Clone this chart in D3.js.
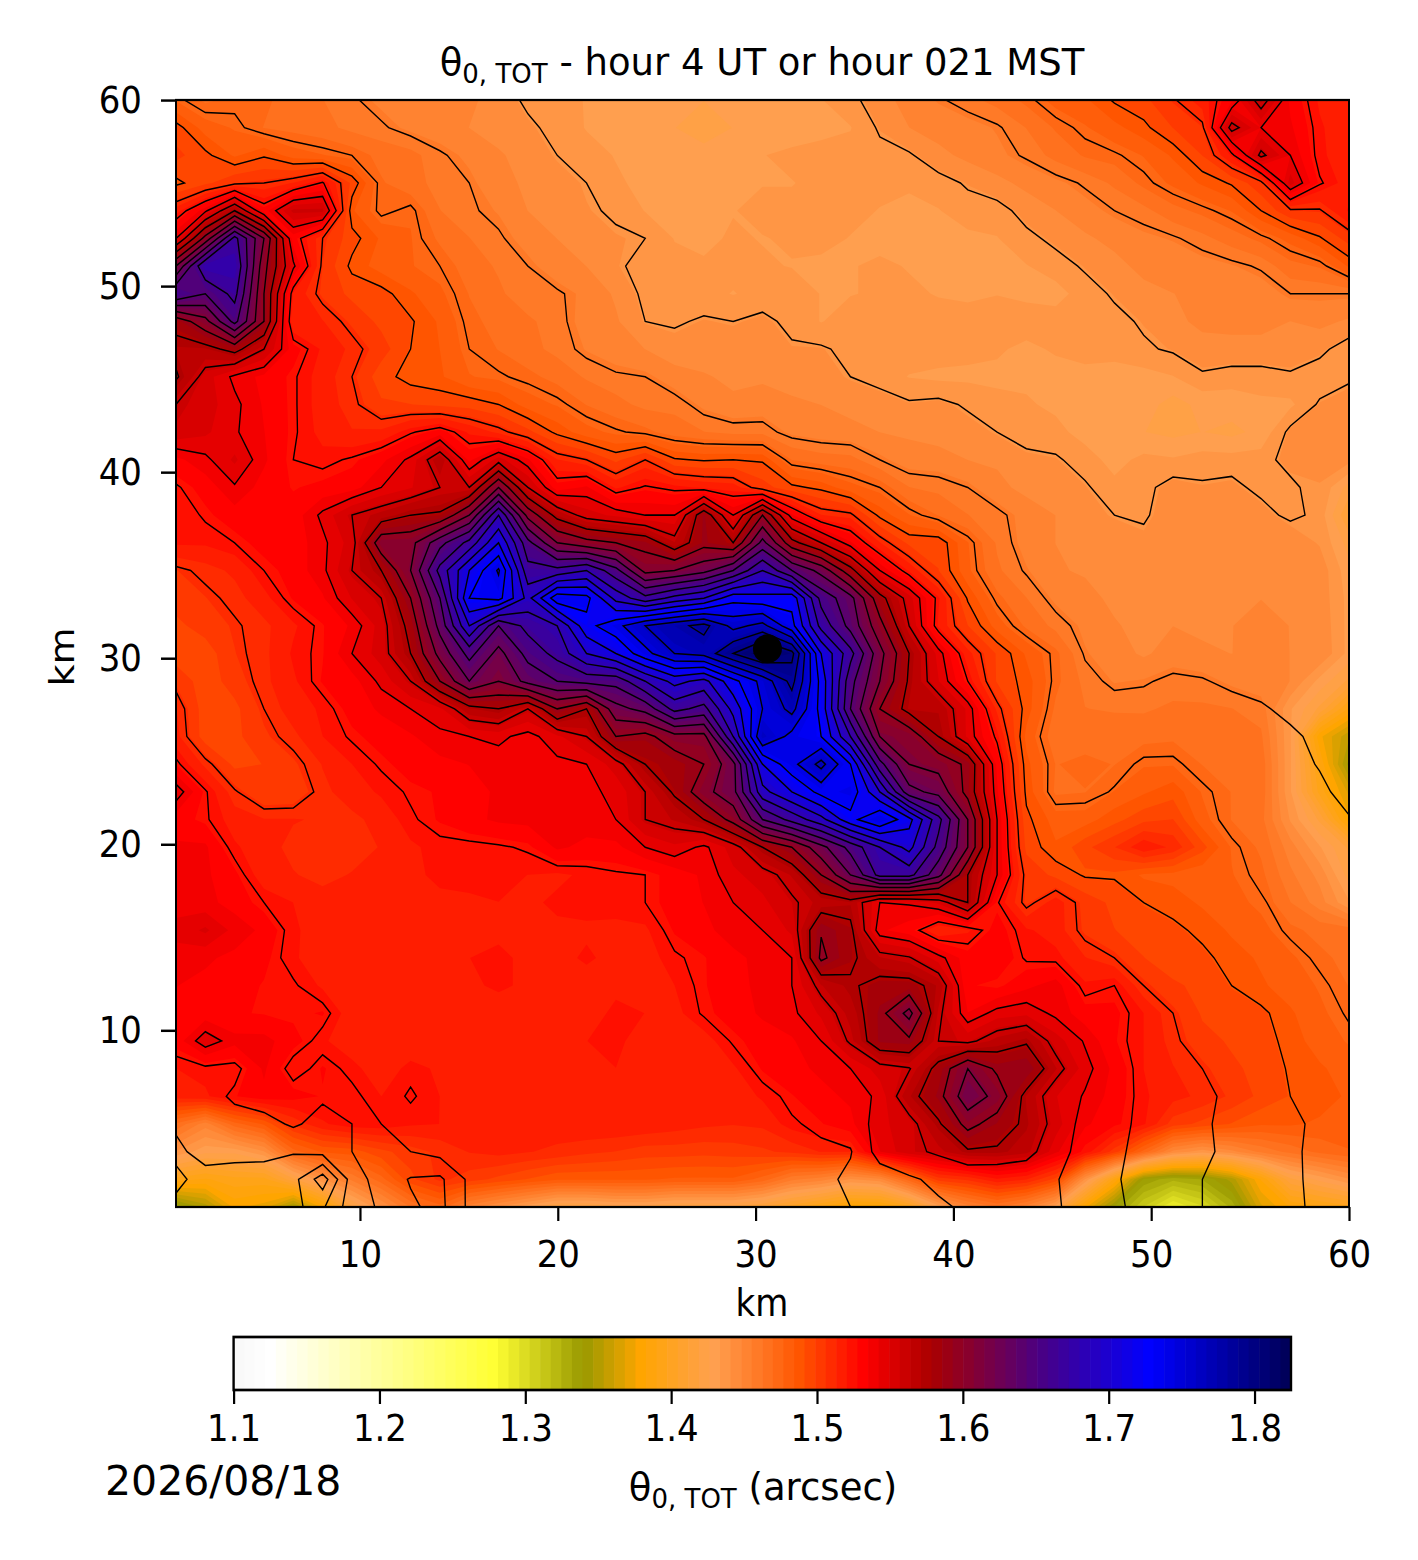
<!DOCTYPE html>
<html>
<head>
<meta charset="utf-8">
<script src="https://d3js.org/d3.v7.min.js"></script>
<style>
  html, body { margin: 0; padding: 0; background: #fff; }
  text { font-family: "DejaVu Sans", sans-serif; fill: #000; }
</style>
</head>
<body>
<div id="chart"></div>
<script>
// map values, top row is y = 60 km, left column x = 0.7 km
// unit: thousandths above 1 on the contour-step scale, see toArcsec
var lineRows = [
[472,465,468,468,462,460,456,452,450,450,448,445,438,436,434,433,432,430,428,430,432,432,434,438,444,450,454,458,462,468,475,478,486,490,499,508,522,552,522,510,506],
[488,476,472,466,464,462,458,456,452,450,447,444,442,437,434,432,430,428,425,428,430,430,432,434,441,447,450,451,454,460,467,472,477,483,492,498,550,530,525,512,506],
[494,487,478,484,476,473,470,464,462,456,452,448,444,440,436,434,432,430,430,432,434,436,437,436,438,439,445,449,452,456,462,467,469,473,480,492,512,548,530,512,508],
[483,490,498,500,505,516,490,467,462,458,455,449,446,443,440,435,433,431,432,433,434,434,436,437,436,435,437,441,445,449,452,456,461,468,474,480,486,497,540,516,508],
[508,528,560,520,545,545,480,468,472,460,456,453,447,445,441,439,434,432,433,434,436,436,436,436,434,433,434,437,437,443,447,451,455,458,464,468,473,485,498,499,512],
[530,580,640,590,520,500,488,478,473,465,460,456,451,447,444,441,440,434,433,435,434,435,436,434,433,432,432,433,434,438,442,446,449,452,454,458,463,468,475,484,495],
[590,650,650,580,532,498,483,476,473,470,463,459,455,450,447,441,438,436,435,436,435,434,433,434,435,434,432,431,433,434,437,441,445,449,449,451,453,456,464,467,480],
[635,620,640,575,510,497,490,488,480,474,466,461,456,456,452,446,438,437,436,434,436,438,434,434,435,435,434,433,434,433,432,437,441,445,447,448,448,450,455,455,455],
[565,585,625,575,505,505,497,490,486,478,468,464,461,457,451,448,440,439,441,440,442,438,434,437,437,436,436,437,438,437,437,436,438,441,445,449,449,449,447,449,446],
[555,555,565,545,520,510,503,495,485,479,470,466,462,458,453,450,447,443,442,444,445,441,441,438,438,437,437,436,435,433,435,437,437,439,441,444,445,445,444,442,436],
[562,540,528,522,516,508,500,488,482,480,473,471,468,464,459,456,455,450,448,445,446,445,443,440,437,434,433,433,433,433,432,432,431,432,434,439,437,437,439,436,439],
[545,540,532,523,516,508,502,493,492,490,489,485,476,472,466,462,458,458,452,449,450,448,447,445,444,441,442,439,436,435,433,431,430,431,425,430,431,433,433,441,443],
[542,538,531,524,516,509,505,506,514,520,510,503,494,483,475,471,468,463,460,458,458,452,450,449,447,446,444,443,440,437,436,432,430,428,426,428,426,430,442,444,444],
[522,528,538,525,515,513,516,522,532,555,522,540,525,505,500,490,500,486,484,485,484,466,463,462,455,450,450,447,446,442,441,437,432,436,435,437,437,437,443,444,443],
[514,520,529,521,517,519,521,530,536,545,545,590,545,520,525,510,516,513,510,508,495,487,483,475,470,460,458,455,449,445,442,441,436,438,443,441,442,438,438,444,443],
[511,516,521,520,520,532,545,552,560,562,590,650,585,555,540,535,530,530,570,530,575,525,505,502,483,473,466,460,457,451,447,443,440,439,444,445,444,443,438,442,443],
[512,512,515,520,520,528,540,585,585,615,640,680,625,590,580,575,570,550,570,560,610,565,545,525,505,490,490,473,459,451,447,444,445,442,444,446,445,445,447,447,444],
[498,502,506,515,520,528,545,560,590,640,680,712,640,640,650,625,585,590,600,620,650,620,600,565,530,510,492,474,461,454,448,446,443,444,446,445,446,444,446,447,444],
[495,498,502,509,518,523,537,545,575,620,695,700,660,705,700,660,640,655,665,690,685,690,630,610,565,540,512,484,468,460,452,450,445,443,446,444,445,447,447,447,446],
[490,495,499,503,510,517,525,540,565,610,665,620,640,650,690,705,725,735,745,720,730,700,645,615,580,545,510,492,476,465,458,452,448,444,447,446,447,448,447,446,446],
[488,488,498,503,512,517,530,540,560,595,625,600,625,640,665,680,705,725,730,755,775,760,680,640,595,560,534,507,491,478,468,454,450,446,450,448,447,449,447,447,445],
[497,488,495,503,510,518,521,532,545,575,605,590,610,620,625,625,650,670,660,690,715,745,690,625,590,558,537,515,491,482,468,458,453,454,457,456,452,449,447,448,443],
[505,488,490,500,508,512,520,525,530,535,555,560,545,575,560,600,610,640,630,670,710,730,690,620,575,555,555,535,503,482,465,460,459,459,461,461,460,457,451,447,443],
[507,488,490,497,503,511,516,520,523,528,530,532,527,535,545,575,570,585,585,650,725,705,695,650,590,585,560,535,513,477,462,463,465,464,465,465,463,461,458,451,445],
[517,503,490,492,497,505,511,516,520,522,524,526,528,528,530,540,560,565,575,600,680,705,730,695,625,590,585,572,522,481,466,468,466,472,472,466,466,464,460,454,448],
[535,516,501,492,493,503,508,512,516,518,521,525,525,526,528,532,545,562,585,600,660,680,700,705,665,610,600,570,525,483,465,466,471,474,476,472,466,464,461,458,450],
[520,516,508,505,505,504,503,507,514,518,522,525,526,528,527,530,545,550,560,580,620,640,660,690,710,685,640,590,530,487,476,476,475,480,480,475,466,462,457,459,456],
[525,525,512,507,503,500,502,505,510,513,513,514,516,525,522,522,530,535,528,540,560,575,600,625,650,670,630,590,530,490,480,478,480,482,482,480,472,465,458,457,462],
[527,525,519,507,505,503,505,507,510,512,513,512,511,510,512,514,515,520,525,535,540,550,575,605,640,640,610,560,530,497,490,484,484,478,477,474,473,468,462,458,462],
[528,526,521,515,511,507,506,505,508,510,510,511,510,512,513,514,515,520,524,530,535,543,552,555,530,531,538,560,516,497,508,496,490,485,482,478,475,471,466,462,463],
[529,529,528,522,512,508,506,505,505,506,509,510,507,510,510,509,510,518,522,527,530,538,574,563,525,520,505,510,520,512,508,497,492,489,487,483,478,475,468,464,463],
[528,525,522,519,512,507,505,505,507,509,511,512,510,509,512,509,508,514,517,522,526,530,578,563,550,546,533,520,522,514,513,505,500,492,488,487,482,478,474,468,464],
[524,522,520,517,516,510,505,505,506,508,510,512,510,507,508,510,511,511,517,521,526,530,549,558,565,565,555,518,516,522,527,512,515,500,493,490,485,480,476,472,466],
[522,520,518,517,516,518,507,505,505,506,507,508,507,507,509,512,511,509,516,520,525,528,538,552,570,595,548,524,533,535,528,520,519,511,500,491,489,487,480,474,469],
[520,535,526,526,520,512,507,506,506,506,508,510,507,508,511,512,509,509,508,516,520,523,530,547,570,572,545,542,552,558,540,529,518,511,502,494,491,489,482,476,472],
[511,513,512,525,511,518,513,507,513,510,509,507,508,508,510,511,510,508,505,510,518,522,525,530,540,544,565,590,572,575,550,533,522,511,505,500,493,490,484,480,476],
[508,510,517,522,520,517,517,511,516,511,510,511,508,509,510,511,509,508,507,507,512,517,522,525,532,555,570,600,585,555,537,529,521,512,507,503,497,490,485,482,478],
[502,507,510,510,517,510,515,515,512,511,510,511,508,509,511,511,510,508,506,505,506,514,517,522,535,540,558,580,568,557,540,525,519,512,507,502,496,491,487,483,480],
[497,505,504,504,501,505,515,520,515,510,510,509,510,508,507,505,503,504,502,502,503,505,513,514,536,542,547,558,558,552,532,528,517,512,506,503,496,492,487,482,478],
[503,495,494,493,490,462,507,522,531,533,512,506,507,505,505,503,502,500,500,501,503,504,511,518,522,528,533,531,530,530,531,522,517,508,505,500,494,491,488,481,477],
[497,490,488,487,486,483,508,517,528,534,512,508,506,505,503,503,502,502,501,502,503,508,510,515,520,524,528,532,534,534,531,526,518,510,506,500,496,491,487,483,477]
];

// the colours drop near the south edge and the east edge, the contour lines do not
var fillBottomRows = [
[465,450,470,480,500,510,515,515,512,511,510,511,508,509,511,511,510,508,506,505,506,514,517,522,535,540,558,580,568,557,540,525,519,512,495,490,485,480,480,478,478],
[440,430,430,440,470,480,482,490,495,500,505,507,505,503,500,498,495,495,494,495,497,500,505,505,530,542,547,558,558,552,532,515,495,470,445,437,445,455,462,468,472],
[400,395,400,400,420,440,455,470,490,500,495,490,485,480,480,480,480,478,478,478,470,455,450,440,445,470,495,500,510,505,490,440,395,350,340,345,360,390,420,430,440],
[345,360,385,380,355,385,420,440,460,470,450,440,430,420,420,425,425,420,420,420,415,405,395,385,385,400,430,450,460,450,430,385,350,325,305,318,340,375,390,395,400]
];
var fillBottomStart = 37;
var fillEastCols = [
[438,440,425],[438,438,415],[445,440,425],[446,445,430],[447,445,432],[447,446,432],[447,447,432],[447,432,420],
[435,420,395],[435,385,365],[435,395,355],[435,400,375],[440,420,385],[450,435,420],[455,445,425],[460,450,435]
];
var fillEastStart = 14;
// darker spots in the colours with no contour round them: row, column, value
var fillSpots = [
[25,32,473],[25,33,478],[25,34,483],[26,32,483],[26,33,490],[26,34,492],
[27,31,490],[27,32,498],[27,33,510],[27,34,503],[27,35,488],[30,0,532],[30,1,538]
];

var xTicks = [10, 20, 30, 40, 50, 60];
var yTicks = [10, 20, 30, 40, 50, 60];
var barTicks = [1.1, 1.2, 1.3, 1.4, 1.5, 1.6, 1.7, 1.8];
var colorStops = [1.10, 1.125, 1.279, 1.34, 1.379, 1.429, 1.488, 1.532, 1.578, 1.652, 1.728, 1.825];
var colorValues = ["#f8f8f8", "#ffffff", "#ffff33", "#999900", "#ffa500", "#ffa050", "#ff5500", "#ff0000", "#aa0000", "#4b0082", "#0000ff", "#000055"];
var siteMark = [30.6, 30.5];

var toArcsec = function(r) { return 1.44 + (r - 440) * 0.017 / 15; };

// the picture is a little taller than wide, tick text included
var sy = 1.12;
var svgWidth = 1418;
var svgHeight = 1560;
var plotLeft = 176, plotRight = 1349, plotTop = 100, plotBottom = 1207;

var svg = d3.select("#chart").append("svg")
  .attr("width", svgWidth)
  .attr("height", svgHeight)
  .style("display", "block");

var g = svg.append("g").attr("transform", "scale(1," + sy + ")");

var xDomain = [0.7, 60];
var yDomain = [0.5, 60];
var xScale = d3.scaleLinear().domain(xDomain).range([plotLeft, plotRight]);
var yScale = d3.scaleLinear().domain(yDomain).range([plotBottom / sy, plotTop / sy]);
var color = d3.scaleLinear().domain(colorStops).range(colorValues).clamp(true);

var nx = lineRows[0].length;
var ny = lineRows.length;
var dx = (xDomain[1] - xDomain[0]) / (nx - 1);
var dy = (yDomain[1] - yDomain[0]) / (ny - 1);

// d3.contours puts the cell values at i + 0.5
var gridPath = d3.geoPath(d3.geoTransform({
  point: function(x, y) {
    this.stream.point(
      xScale(xDomain[0] + (x - 0.5) * dx),
      yScale(yDomain[1] - (y - 0.5) * dy)
    );
  }
}));

var fillRows = lineRows.map(function(row) { return row.slice(); });
fillBottomRows.forEach(function(row, i) { fillRows[fillBottomStart + i] = row; });
fillEastCols.forEach(function(vals, i) {
  vals.forEach(function(v, k) { fillRows[fillEastStart + i][nx - 3 + k] = v; });
});
fillSpots.forEach(function(s) { fillRows[s[0]][s[1]] = s[2]; });

var flatLines = d3.merge(lineRows).map(toArcsec);
var flatFill = d3.merge(fillRows).map(toArcsec);

var bandStep = 0.00725;
var fillLevels = d3.range(1.1, 1.825, bandStep);
var lineLevels = d3.range(1.44, 1.82, 0.017);

var defs = svg.append("defs");
defs.append("clipPath").attr("id", "plot-clip").append("rect")
  .attr("x", plotLeft).attr("y", plotTop / sy)
  .attr("width", plotRight - plotLeft).attr("height", (plotBottom - plotTop) / sy);

var plot = g.append("g").attr("clip-path", "url(#plot-clip)");

plot.selectAll("path.band")
  .data(d3.contours().size([nx, ny]).thresholds(fillLevels)(flatFill))
  .enter().append("path")
  .attr("class", "band")
  .attr("d", gridPath)
  .attr("fill", function(d) { return color(d.value + bandStep / 2); });

plot.selectAll("path.level")
  .data(d3.contours().size([nx, ny]).thresholds(lineLevels)(flatLines))
  .enter().append("path")
  .attr("class", "level")
  .attr("d", gridPath)
  .attr("fill", "none")
  .attr("stroke", "#000")
  .attr("stroke-width", 1.35);

plot.append("ellipse")
  .attr("cx", xScale(siteMark[0]))
  .attr("cy", yScale(siteMark[1]))
  .attr("rx", 14.5)
  .attr("ry", 14.5 / sy)
  .attr("fill", "#000");

// axes
var bottomAxis = d3.axisBottom(xScale).tickValues(xTicks).tickSizeInner(14 / sy).tickSizeOuter(0).tickPadding(17);
var leftAxis = d3.axisLeft(yScale).tickValues(yTicks).tickSizeInner(15).tickSizeOuter(0).tickPadding(19);

var xAxis = g.append("g").attr("transform", "translate(0," + plotBottom / sy + ")").call(bottomAxis);
var yAxis = g.append("g").attr("transform", "translate(" + plotLeft + ",0)").call(leftAxis);

[xAxis, yAxis].forEach(function(a) {
  a.select(".domain").remove();
  a.selectAll("line").attr("stroke", "#000").attr("stroke-width", 2.2);
  a.selectAll("text").attr("font-size", 34).attr("font-family", "DejaVu Sans");
});

g.append("rect")
  .attr("x", plotLeft).attr("y", plotTop / sy)
  .attr("width", plotRight - plotLeft).attr("height", (plotBottom - plotTop) / sy)
  .attr("fill", "none").attr("stroke", "#000").attr("stroke-width", 2);

// theta with subscript, used twice
function thetaLabel(x, y, rest) {
  var t = svg.append("text").attr("x", x).attr("y", y).attr("text-anchor", "middle").attr("font-size", 37);
  t.append("tspan").text("\u03b8");
  t.append("tspan").attr("dy", 8).attr("font-size", 26).text("0, TOT");
  t.append("tspan").attr("dy", -8).text(rest);
  return t;
}

thetaLabel(762, 75, " - hour 4 UT or hour 021 MST");

g.append("text").attr("x", 762).attr("y", 1316 / sy).attr("text-anchor", "middle").attr("font-size", 34).text("km");

g.append("text")
  .attr("transform", "translate(74," + 657 / sy + ") rotate(-90)")
  .attr("text-anchor", "middle").attr("font-size", 34).text("km");

// colour bar
var barLeft = 233.6, barRight = 1291, barTop = 1337, barBottom = 1390;
var barScale = d3.scaleLinear().domain([1.1, 1.825]).range([barLeft, barRight]);

g.selectAll("rect.swatch")
  .data(fillLevels)
  .enter().append("rect")
  .attr("class", "swatch")
  .attr("x", function(d) { return barScale(d); })
  .attr("y", barTop / sy)
  .attr("width", function(d) { return barScale(d + bandStep) - barScale(d) + 0.6; })
  .attr("height", (barBottom - barTop) / sy)
  .attr("fill", function(d) { return color(d + bandStep / 2); });

g.append("rect")
  .attr("x", barLeft).attr("y", barTop / sy)
  .attr("width", barRight - barLeft).attr("height", (barBottom - barTop) / sy)
  .attr("fill", "none").attr("stroke", "#000").attr("stroke-width", 2.4);

var barAxis = g.append("g")
  .attr("transform", "translate(0," + barBottom / sy + ")")
  .call(d3.axisBottom(barScale).tickValues(barTicks).tickFormat(d3.format(".1f")).tickSizeInner(14 / sy).tickSizeOuter(0).tickPadding(9));
barAxis.select(".domain").remove();
barAxis.selectAll("line").attr("stroke", "#000").attr("stroke-width", 2.2);
barAxis.selectAll("text").attr("font-size", 34).attr("font-family", "DejaVu Sans");

thetaLabel(763, 1500, " (arcsec)");

svg.append("text")
  .attr("x", 105).attr("y", 1495)
  .attr("font-size", 41)
  .text("2026/08/18");
</script>
</body>
</html>
